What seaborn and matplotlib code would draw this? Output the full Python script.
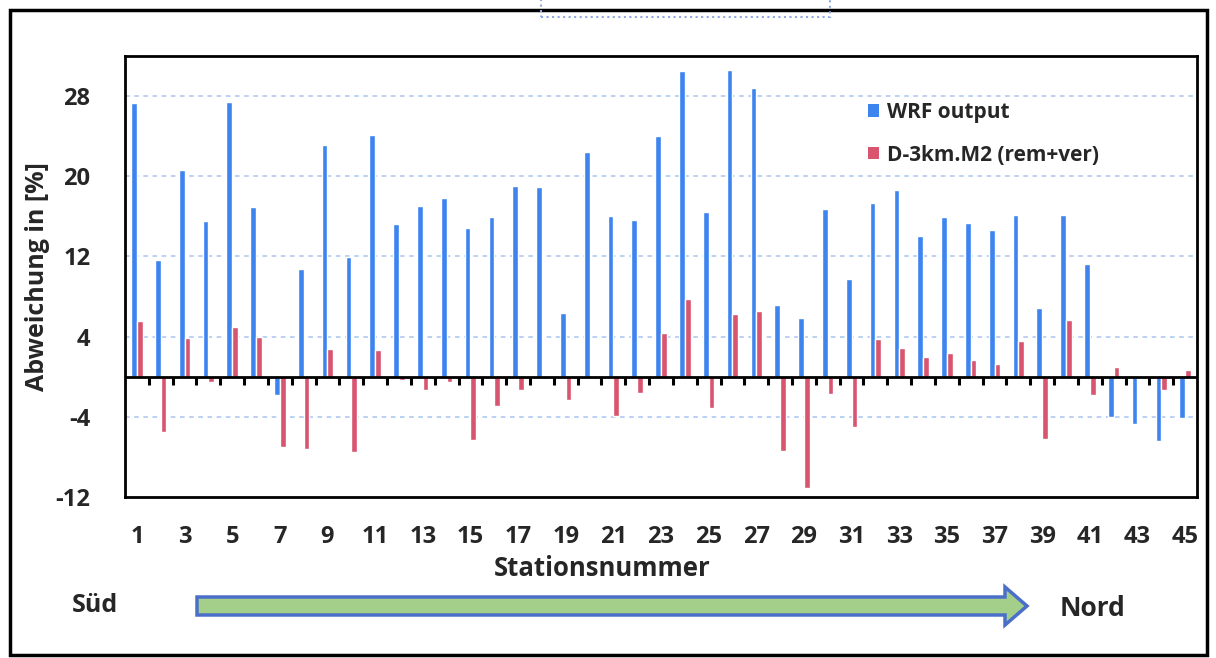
import numpy as np
import pandas as pd
import matplotlib.pyplot as plt
import seaborn as sns
from matplotlib.patches import Rectangle, FancyArrow, Patch

# Station numbers (south -> north)
stations = list(range(1, 46))

# Abweichung in [%]
wrf_output = [27.3, 11.6, 20.6, 15.5, 27.4, 16.9, -1.8, 10.7, 23.1, 11.9,
              24.1, 15.2, 17.0, 17.8, 14.8, 15.9, 19.0, 18.9, 6.4, 22.4,
              16.0, 15.6, 24.0, 30.5, 16.4, 30.6, 28.8, 7.2, 5.9, 16.7,
              9.8, 17.3, 18.6, 14.0, 15.9, 15.3, 14.6, 16.1, 6.9, 16.1,
              11.2, -4.0, -4.7, -6.4, -4.1]
d3km_m2 = [5.6, -5.5, 3.9, -0.5, 5.0, 4.0, -7.0, -7.2, 2.8, -7.5,
           2.7, -0.3, -1.3, -0.5, -6.3, -2.9, -1.3, -0.2, -2.3, 0.0,
           -3.9, -1.6, 4.4, 7.8, -3.1, 6.3, 6.6, -7.4, -11.1, -1.7,
           -5.0, 3.8, 2.9, 2.0, 2.4, 1.7, 1.3, 3.6, -6.2, 5.7,
           -1.8, 1.0, 0.0, -1.3, 0.7]

series_names = ['WRF output', 'D-3km.M2 (rem+ver)']
series_colors = ['#3d84ef', '#d8546f']
y_ticks = list(range(-12, 33, 4))
y_labelled = [-12, -4, 4, 12, 20, 28]
grid_values = [-4, 4, 12, 20, 28]

df = pd.DataFrame({
    'Station': stations * 2,
    'Abweichung': wrf_output + d3km_m2,
    'Serie': [series_names[0]] * len(stations) + [series_names[1]] * len(stations),
})

sns.set_style('white')
plt.rcParams['font.family'] = ['Open Sans', 'DejaVu Sans']
plt.rcParams['font.weight'] = 'bold'

W, H = 1216, 658
fig = plt.figure(figsize=(W / 100, H / 100), dpi=100)
ax = fig.add_axes([125 / W, 1 - 497 / H, (1197 - 125) / W, (497 - 56) / H])

for g in grid_values:
    ax.axhline(g, color='#a8c4f0', lw=1.1, ls=(0, (3, 3)), zorder=0)

sns.barplot(data=df, x='Station', y='Abweichung', hue='Serie',
            palette=series_colors, width=0.48, dodge=True, saturation=1,
            ax=ax, legend=False, zorder=2)

# zero axis line with category tick marks
ax.axhline(0, color='black', lw=2, zorder=3)
ax.vlines(np.arange(0.5, len(stations) - 1, 1), -0.8, 0, color='black', lw=2.2, zorder=3)

ax.set_xlim(-0.5, len(stations) - 0.5)
ax.set_ylim(-12, 32)
ax.set_yticks(y_ticks)
ax.set_yticklabels([str(v) if v in y_labelled else '' for v in y_ticks])
ax.set_xticks(range(0, len(stations), 2))
ax.set_xticklabels([str(s) for s in stations[::2]])
ax.tick_params(axis='y', direction='out', length=7, width=2, pad=18, labelsize=17)
ax.tick_params(axis='x', length=0, pad=20, labelsize=17)
ax.set_xlabel('')
ax.set_ylabel('Abweichung in [%]', fontsize=18, fontweight='bold', labelpad=4)
for sp in ax.spines.values():
    sp.set_visible(True)
    sp.set_color('black')
    sp.set_linewidth(2)

handles = [Patch(facecolor=c, edgecolor='none') for c in series_colors]
ax.legend(handles, series_names, loc='upper left', bbox_to_anchor=(0.683, 0.92),
          frameon=False, handlelength=0.55, handleheight=0.55,
          handletextpad=0.4, labelspacing=1.05, borderpad=0,
          prop={'weight': 'bold', 'size': 15})

fig.text(602 / W, 1 - 568 / H, 'Stationsnummer', ha='center', va='center',
         fontsize=18.5, fontweight='bold')
fig.text(95 / W, 1 - 606 / H, 'Süd', ha='center', va='center', fontsize=18, fontweight='bold')
fig.text(1092 / W, 1 - 608 / H, 'Nord', ha='center', va='center', fontsize=19, fontweight='bold')

# south -> north arrow, in figure pixels
arrow = FancyArrow(197, H - 606, 830, 0, width=18, head_width=38, head_length=22,
                   length_includes_head=True, facecolor='#a4cf8a', edgecolor='#4a6fc8',
                   lw=2.5, transform=None, figure=fig)
fig.patches.append(arrow)

# outer frame and cut-off box at the top
fig.patches.append(Rectangle((10, 3), 1197, H - 13, fill=False, edgecolor='black',
                             lw=2.5, transform=None, figure=fig))
fig.patches.append(Rectangle((541, H - 17), 289, 30, fill=False, edgecolor='#8fa8e0',
                             lw=1.5, ls=':', transform=None, figure=fig))

fig.savefig('out.png', dpi=100)
